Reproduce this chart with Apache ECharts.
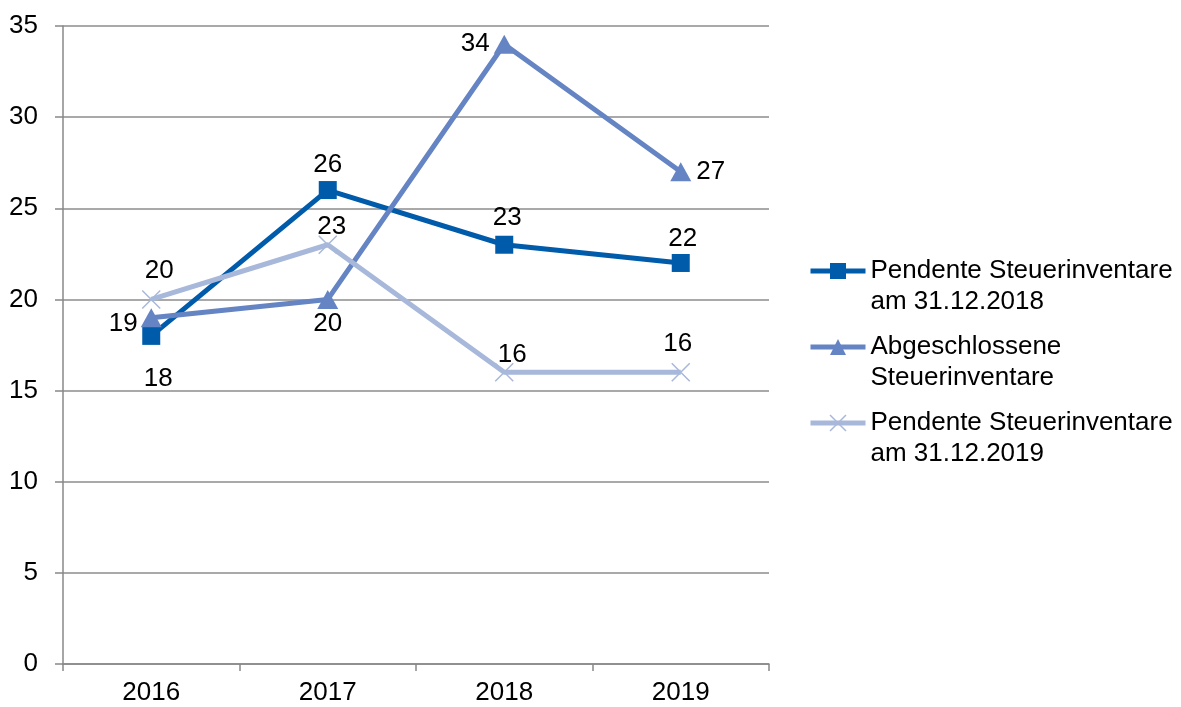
<!DOCTYPE html>
<html>
<head>
<meta charset="utf-8">
<script src="https://cdn.jsdelivr.net/npm/echarts@6/dist/echarts.min.js"></script>
<style>html,body{margin:0;padding:0;background:#fff}#c{width:1181px;height:707px}</style>
</head>
<body>
<div id="c"></div>
<script>
const categories = ['2016', '2017', '2018', '2019'];
const seriesNames = ['Pendente Steuerinventare\nam 31.12.2018', 'Abgeschlossene\nSteuerinventare', 'Pendente Steuerinventare\nam 31.12.2019'];
const pendente2018 = [18, 26, 23, 22];
const abgeschlossen = [19, 20, 34, 27];
const pendente2019 = [20, 23, 16, 16];
const yTicks = [0, 5, 10, 15, 20, 25, 30, 35];

const FONT = 'Liberation Sans, Arial, sans-serif';
const FS = 26;
const colors = ['#005BAA', '#6584C3', '#A7B8DA'];
const labelCfg = [
  [{position: 'bottom', distance: 21, offset: [7, 0]}, {position: 'top', distance: 3}, {position: 'top', distance: 5, offset: [3, 0]}, {position: 'top', distance: 2, offset: [2, 0]}],
  [{position: 'left', distance: 3, offset: [0, 6]}, {position: 'bottom', distance: 2}, {position: 'left', distance: 4}, {position: 'right', distance: 5}],
  [{position: 'top', distance: 4, offset: [8, 0]}, {position: 'top', distance: 0, offset: [4, 7]}, {position: 'top', distance: 0, offset: [8, 7]}, {position: 'top', distance: 4, offset: [-3, 0]}]
];
const values = [pendente2018, abgeschlossen, pendente2019];
const symbols = ['rect', 'triangle', 'path://M0,0 L10,10 M10,0 L0,10'];
const symSizes = [18, [21, 19], 18];

const series = values.map((vals, si) => ({
  name: seriesNames[si],
  type: 'line',
  data: vals.map((v, i) => ({
    value: v,
    label: Object.assign({}, labelCfg[si][i])
  })),
  symbol: symbols[si],
  symbolSize: symSizes[si],
  showAllSymbol: true,
  lineStyle: {color: colors[si], width: 5},
  itemStyle: si === 2 ? {color: 'none', borderColor: colors[si], borderWidth: 1.5} : {color: colors[si]},
  label: {show: true, color: '#000', fontSize: FS, fontFamily: FONT}
}));

const legends = seriesNames.map((n, i) => ({
  data: [n],
  left: 803,
  top: 219.5 + i * 76,
  orient: 'vertical',
  itemWidth: 55,
  itemHeight: 20,
  itemGap: 0,
  formatter: name => '\n' + name,
  lineStyle: {color: colors[i], width: 5},
  itemStyle: i === 2 ? {color: 'none', borderColor: colors[2], borderWidth: 1.5} : {color: colors[i]},
  textStyle: {fontSize: FS, fontFamily: FONT, color: '#000', lineHeight: 31},
  selectedMode: false
}));

const chart = echarts.init(document.getElementById('c'), null, {renderer: 'canvas'});
chart.setOption({
  animation: false,
  color: colors,
  grid: {left: 63, top: 26, width: 706, height: 638},
  legend: legends,
  xAxis: {
    type: 'category',
    data: categories,
    boundaryGap: true,
    axisLine: {lineStyle: {color: '#888', width: 1.5}},
    axisTick: {show: true, length: 7, lineStyle: {color: '#888', width: 1.5}},
    axisLabel: {color: '#000', fontSize: FS, fontFamily: FONT, margin: 16}
  },
  yAxis: {
    type: 'value',
    min: yTicks[0],
    max: yTicks[yTicks.length - 1],
    interval: yTicks[1] - yTicks[0],
    axisLine: {show: true, lineStyle: {color: '#888', width: 1.5}},
    axisTick: {show: true, length: 8, lineStyle: {color: '#888', width: 1.5}},
    axisLabel: {color: '#000', fontSize: FS, fontFamily: FONT, margin: 25},
    splitLine: {show: true, lineStyle: {color: '#8c8c8c', width: 1.5}}
  },
  series: series
});
</script>
</body>
</html>
